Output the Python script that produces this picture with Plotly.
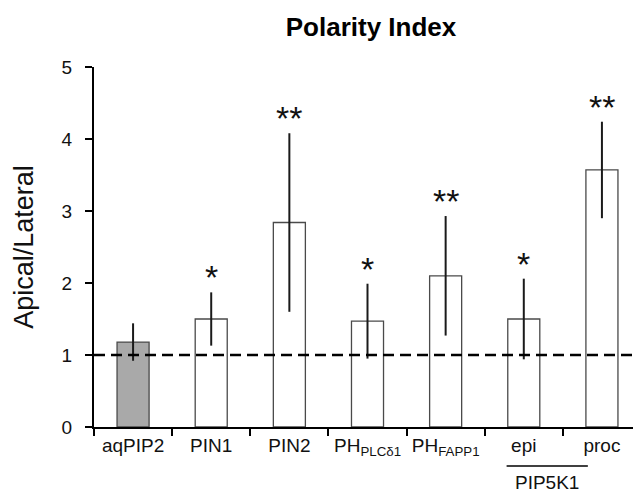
import plotly.graph_objects as go

categories = ["aqPIP2", "PIN1", "PIN2", "PH<sub>PLCδ1</sub>", "PH<sub>FAPP1</sub>", "epi", "proc"]
values = [1.18, 1.50, 2.84, 1.47, 2.10, 1.50, 3.57]
errors = [0.26, 0.37, 1.24, 0.52, 0.83, 0.56, 0.67]
stars = ["", "*", "**", "*", "**", "*", "**"]
fill_colors = ["#a9a9a9", "white", "white", "white", "white", "white", "white"]
group_label = "PIP5K1"
ref_line = 1.0

FONT = "Liberation Sans, Arial, sans-serif"

fig = go.Figure()
fig.add_trace(go.Bar(
    x=categories, y=values,
    width=0.41,
    marker=dict(color=fill_colors, line=dict(color="#4a4a4a", width=1.3)),
    error_y=dict(type="data", array=errors, visible=True, color="#1a1a1a", thickness=2, width=0),
    showlegend=False,
))

# reference dashed line
fig.add_shape(type="line", xref="paper", yref="y", x0=0, x1=1, y0=ref_line, y1=ref_line,
              line=dict(color="black", width=2.5, dash="11px,6px"))

# significance stars
for c, v, e, s in zip(categories, values, errors, stars):
    if s:
        fig.add_annotation(x=c, y=v + e, text=s, showarrow=False,
                           yanchor="bottom", yshift=-6,
                           font=dict(family=FONT, size=34, color="#111"))

# group bracket
fig.add_shape(type="line", xref="x", yref="paper", x0=4.78, x1=5.82, y0=-0.108, y1=-0.108,
              line=dict(color="black", width=1.5))
fig.add_annotation(x=5.3, xref="x", y=-0.153, yref="paper", text=group_label, showarrow=False,
                   yanchor="middle", font=dict(family=FONT, size=19, color="#111"))

fig.update_layout(
    width=633, height=485,
    margin=dict(l=86, r=0, t=59, b=66, autoexpand=False),
    plot_bgcolor="white", paper_bgcolor="white",
    title=dict(text="<b>Polarity Index</b>", x=0.5735, xanchor="center",
               y=0.961, yanchor="middle", font=dict(family=FONT, size=26, color="black")),
    font=dict(family=FONT, color="black"),
)
fig.update_xaxes(
    type="category", range=[-0.5, 6.5], tickson="boundaries", automargin=False,
    showline=True, linecolor="black", linewidth=2,
    ticks="outside", ticklen=7, tickwidth=2, tickcolor="black",
    tickfont=dict(family=FONT, size=19, color="#111"),
    showgrid=False, zeroline=False,
)
fig.update_yaxes(
    range=[0, 5], tickvals=[0, 1, 2, 3, 4, 5], automargin=False,
    showline=True, linecolor="black", linewidth=2,
    ticks="outside", ticklen=7, tickwidth=2, tickcolor="black",
    ticklabelstandoff=9,
    tickfont=dict(family=FONT, size=19, color="#111"),
    showgrid=False, zeroline=False,
    title=dict(text="Apical/Lateral", font=dict(family=FONT, size=27, color="#111"), standoff=20),
)

fig.write_html("out.html")
